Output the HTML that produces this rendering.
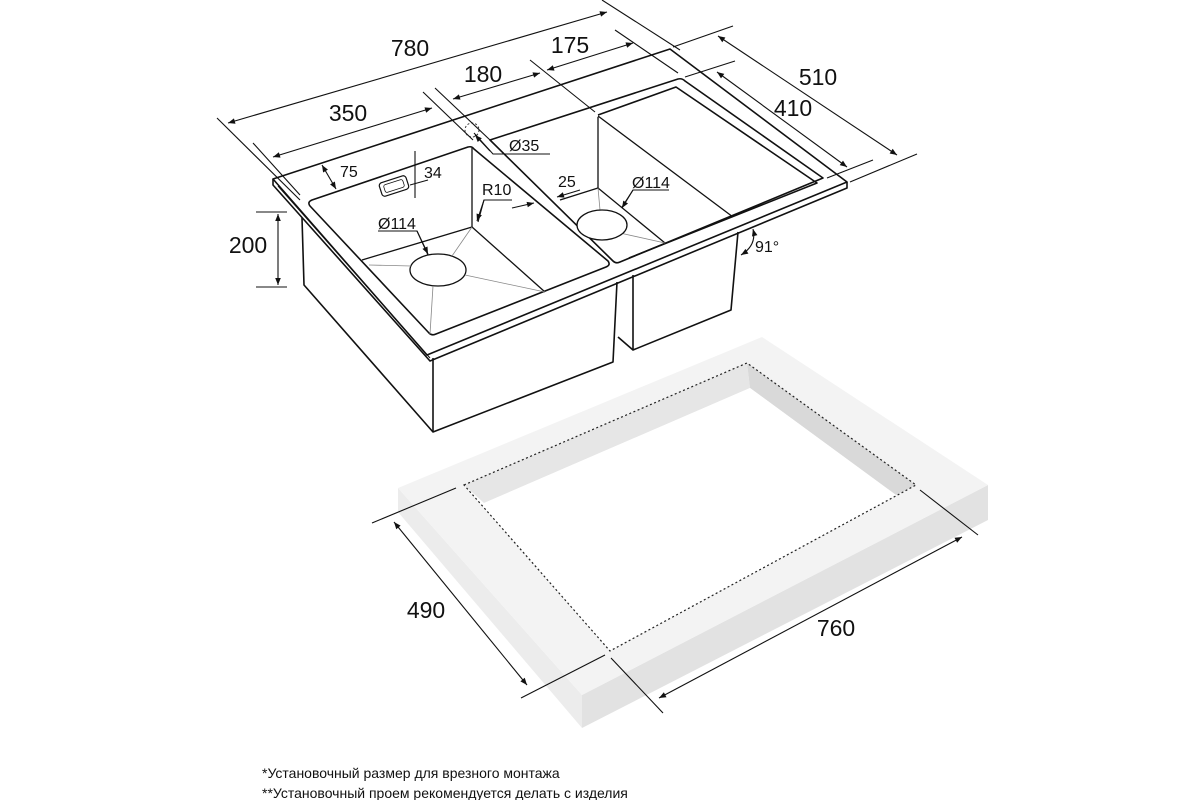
<!DOCTYPE html>
<html><head><meta charset="utf-8"><style>
html,body{margin:0;padding:0;background:#fff;width:1200px;height:800px;overflow:hidden}
svg{display:block}
text{font-family:"Liberation Sans",sans-serif;fill:#111}
</style></head><body>
<svg width="1200" height="800" viewBox="0 0 1200 800" xmlns="http://www.w3.org/2000/svg">
<defs>
<marker id="a" viewBox="0 0 10 10" refX="10" refY="5" markerWidth="9" markerHeight="7" orient="auto-start-reverse" markerUnits="userSpaceOnUse"><path d="M0,1 L10,5 L0,9 Z" fill="#111"/></marker>
</defs>
<!-- countertop -->
<polygon points="398,488 582,695 582,728 398,512" fill="#ececec"/>
<polygon points="582,695 988,485 988,520 582,728" fill="#e2e2e2"/>
<polygon points="762,337 988,485 582,695 398,488" fill="#f3f3f3"/>
<polygon points="464,485 747,363 916,485 610,651" fill="#fff"/>
<polygon points="464,485 747,363 750,388 484,503" fill="#e6e6e6"/>
<polygon points="747,363 916,485 896,495 750,388" fill="#d9d9d9"/>
<polygon points="484,503 750,388 896,495 610,651" fill="#fff"/>
<polygon points="464,485 747,363 916,485 610,651" fill="none" stroke="#222" stroke-width="1.2" stroke-dasharray="2,2.5"/>
<g stroke="#111" stroke-width="1.1" fill="none">
<line x1="372" y1="523" x2="456" y2="488"/>
<line x1="521" y1="698" x2="605" y2="655"/>
<line x1="394" y1="522" x2="527" y2="685" marker-start="url(#a)" marker-end="url(#a)"/>
<line x1="611" y1="658" x2="663" y2="713"/>
<line x1="920" y1="490" x2="978" y2="535"/>
<line x1="659" y1="698" x2="962" y2="537" marker-start="url(#a)" marker-end="url(#a)"/>
</g>
<text x="426" y="618" font-size="23" text-anchor="middle">490</text>
<text x="836" y="636" font-size="23" text-anchor="middle">760</text>

<!-- sink body -->
<g stroke="#111" stroke-width="1.6" fill="none" stroke-linejoin="round">
<polyline points="302,218 304,285 433,432 613,362 617,282"/>
<line x1="433" y1="358" x2="433" y2="432"/>
<polyline points="633,275 633,350 731,310 738,232"/>
<line x1="618" y1="337" x2="633" y2="350"/>
<!-- rim -->
<polygon points="273,179 670,49 847,182 427,355" fill="#fff"/>
<polyline points="273,179 273,185 430,361 847,188 847,182"/>
<line x1="278" y1="186" x2="430" y2="358" stroke-width="1"/>
<!-- left bowl opening -->
<path d="M312,200 L468,147 Q472,146 474,149 L608,261 Q611,265 606,267 L436,334 Q432,336 429,333 L310,206 Q307,202 312,200 Z"/>
<!-- ledge + right bowl opening -->
<path d="M490,140 L678,79 Q682,78 685,81 L823,178 L620,262 Q616,264 613,261 Z"/>
<path d="M598,115 L676,87 L817,183 L629,258"/>
</g>
<!-- left bowl interior -->
<g stroke="#111" stroke-width="1.3" fill="none">
<line x1="472" y1="148" x2="472" y2="227"/>
<line x1="362" y1="260" x2="472" y2="227"/>
<line x1="472" y1="227" x2="545" y2="292"/>
<ellipse cx="438" cy="270" rx="28" ry="16" fill="#fff"/>
<line x1="598" y1="117" x2="598" y2="188"/>
<line x1="598" y1="188" x2="665" y2="243"/>
<line x1="598" y1="116" x2="733" y2="217"/>
<line x1="560" y1="200" x2="598" y2="188"/>
</g>
<g stroke="#888" stroke-width="0.8" fill="none">
<line x1="472" y1="227" x2="452" y2="256"/>
<line x1="369" y1="265" x2="411" y2="266"/>
<line x1="465" y1="275" x2="545" y2="292"/>
<line x1="433" y1="286" x2="430" y2="334"/>
<line x1="598" y1="188" x2="600" y2="210"/>
<line x1="620" y1="233" x2="665" y2="243"/>
</g>
<ellipse cx="602" cy="225" rx="25" ry="15" fill="#fff" stroke="#111" stroke-width="1.3"/>
<!-- overflow -->
<rect x="380" y="179" width="28" height="14" rx="3" transform="rotate(-18 394 186)" fill="#fff" stroke="#111" stroke-width="1.2"/>
<rect x="384" y="182" width="20" height="8" rx="2" transform="rotate(-18 394 186)" fill="none" stroke="#111" stroke-width="0.8"/>
<circle cx="472" cy="130" r="7" fill="none" stroke="#333" stroke-width="1" stroke-dasharray="2,2"/>

<!-- dimensions top -->
<g stroke="#111" stroke-width="1.1" fill="none">
<line x1="217" y1="118" x2="300" y2="200"/>
<line x1="602" y1="0" x2="680" y2="50"/>
<line x1="228" y1="123" x2="607" y2="12" marker-start="url(#a)" marker-end="url(#a)"/>
<line x1="253" y1="143" x2="300" y2="195"/>
<line x1="423" y1="92" x2="473" y2="140"/>
<line x1="273" y1="157" x2="432" y2="108" marker-start="url(#a)" marker-end="url(#a)"/>
<line x1="435" y1="88" x2="490" y2="140"/>
<line x1="453" y1="99" x2="540" y2="73" marker-start="url(#a)" marker-end="url(#a)"/>
<line x1="530" y1="60" x2="595" y2="112"/>
<line x1="615" y1="30" x2="678" y2="73"/>
<line x1="547" y1="70" x2="633" y2="43" marker-start="url(#a)" marker-end="url(#a)"/>
<line x1="673" y1="47" x2="733" y2="26"/>
<line x1="850" y1="182" x2="917" y2="154"/>
<line x1="718" y1="36" x2="897" y2="155" marker-start="url(#a)" marker-end="url(#a)"/>
<line x1="685" y1="77" x2="735" y2="61"/>
<line x1="827" y1="178" x2="873" y2="160"/>
<line x1="717" y1="72" x2="847" y2="167" marker-start="url(#a)" marker-end="url(#a)"/>
<!-- 200 -->
<line x1="256" y1="212" x2="287" y2="212"/>
<line x1="256" y1="287" x2="287" y2="287"/>
<line x1="278" y1="214" x2="278" y2="285" marker-start="url(#a)" marker-end="url(#a)"/>
<!-- 75 -->
<line x1="322" y1="165" x2="336" y2="189" marker-start="url(#a)" marker-end="url(#a)"/>
<!-- 34 -->
<line x1="415" y1="151" x2="415" y2="198"/>
<line x1="410" y1="185" x2="428" y2="180"/>
<!-- Ø35 -->
<polyline points="550,154 493,154 474,133"/>
<line x1="490" y1="151" x2="475" y2="135" marker-end="url(#a)"/>
<!-- R10 -->
<polyline points="512,200 484,200 478,222"/>
<line x1="484" y1="200" x2="477" y2="221" marker-end="url(#a)"/>
<!-- 25 -->
<line x1="512" y1="208" x2="534" y2="203" marker-end="url(#a)"/>
<line x1="580" y1="190" x2="557" y2="197" marker-end="url(#a)"/>
<!-- Ø114 left -->
<polyline points="378,231 417,231 428,255"/>
<line x1="417" y1="231" x2="428" y2="254" marker-end="url(#a)"/>
<!-- Ø114 right -->
<polyline points="669,190 633,190 622,207"/>
<line x1="633" y1="190" x2="622" y2="208" marker-end="url(#a)"/>
<!-- 91 -->
<path d="M753,229 Q757,245 741,255" marker-start="url(#a)" marker-end="url(#a)"/>
</g>
<g font-size="23" text-anchor="middle">
<text x="410" y="56">780</text>
<text x="570" y="53">175</text>
<text x="483" y="82">180</text>
<text x="348" y="121">350</text>
<text x="818" y="85">510</text>
<text x="793" y="116">410</text>
<text x="248" y="253">200</text>
</g>
<g font-size="16">
<text x="340" y="177">75</text>
<text x="424" y="178">34</text>
<text x="482" y="195">R10</text>
<text x="558" y="187">25</text>
<text x="509" y="151">Ø35</text>
<text x="632" y="188">Ø114</text>
<text x="378" y="229">Ø114</text>
<text x="755" y="252">91°</text>
</g>
<g font-size="14">
<text x="262" y="778">*Установочный размер для врезного монтажа</text>
<text x="262" y="798">**Установочный проем рекомендуется делать с изделия</text>
</g>
</svg>
</body></html>
